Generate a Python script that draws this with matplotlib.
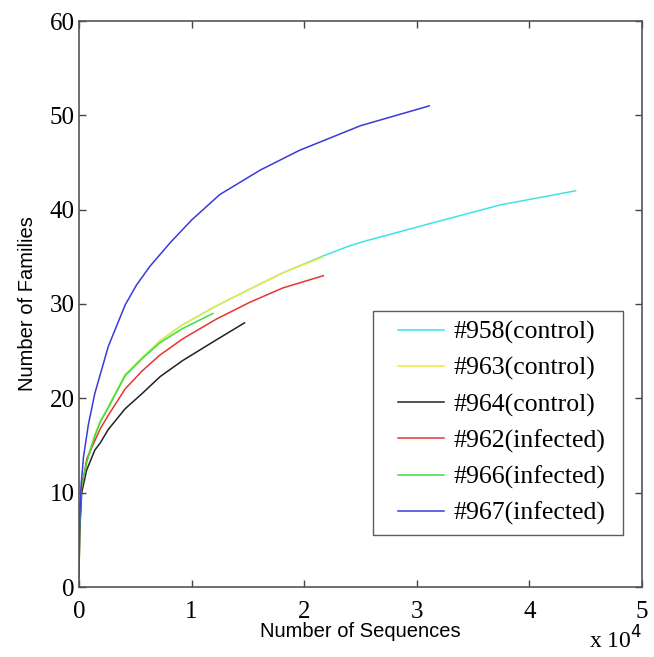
import numpy as np
import matplotlib
matplotlib.use("Agg")
import matplotlib.pyplot as plt
from matplotlib.lines import Line2D
from matplotlib.legend_handler import HandlerLine2D

# rarefaction curves, x in units of 1e4 sequences
x_958 = [0.0001, 0.005, 0.02, 0.07, 0.14, 0.19, 0.26, 0.41, 0.56, 0.72, 0.92, 1.22, 1.52, 1.81,
         2.17, 2.41, 2.55, 3.14, 3.74, 4.41]
y_958 = [1, 6, 10.5, 13.4, 16.1, 17.6, 19.1, 22.5, 24.3, 26.1, 27.8, 29.8, 31.6, 33.3,
         35.1, 36.2, 36.7, 38.6, 40.5, 42.0]

x_963 = [0.0001, 0.005, 0.02, 0.07, 0.14, 0.19, 0.26, 0.41, 0.56, 0.72, 0.92, 1.22, 1.52, 1.81, 2.17]
y_963 = [1, 6, 10.5, 13.4, 16.1, 17.6, 19.1, 22.5, 24.3, 26.1, 27.8, 29.8, 31.6, 33.3, 35.0]

x_964 = [0.0001, 0.005, 0.024, 0.068, 0.14, 0.19, 0.26, 0.41, 0.56, 0.72, 0.92, 1.22, 1.47]
y_964 = [1, 5.5, 10.0, 12.4, 14.5, 15.3, 16.7, 18.9, 20.5, 22.3, 24.0, 26.2, 28.0]

x_962 = [0.0001, 0.005, 0.02, 0.07, 0.14, 0.19, 0.26, 0.41, 0.56, 0.72, 0.92, 1.22, 1.52, 1.81, 2.17]
y_962 = [1, 6, 10.2, 13.6, 15.5, 16.8, 18.2, 21.0, 22.9, 24.6, 26.3, 28.4, 30.2, 31.7, 33.0]

x_966 = [0.0001, 0.005, 0.02, 0.07, 0.14, 0.19, 0.26, 0.41, 0.56, 0.72, 0.92, 1.19]
y_966 = [1, 6, 10.5, 13.3, 16.0, 17.5, 19.0, 22.4, 24.2, 25.9, 27.4, 29.0]

x_967 = [0.0001, 0.004, 0.01, 0.02, 0.04, 0.083, 0.14, 0.26, 0.41, 0.51, 0.63, 0.81, 1.0, 1.25,
         1.61, 1.96, 2.5, 3.11]
y_967 = [1, 6, 8.5, 11.0, 13.8, 17.2, 20.5, 25.5, 29.9, 32.0, 34.0, 36.5, 38.9, 41.6,
         44.2, 46.3, 48.9, 51.0]

labels = ["#958(control)", "#963(control)", "#964(control)",
          "#962(infected)", "#966(infected)", "#967(infected)"]
colors = ["#3fe3e3", "#ecec3a", "#222222", "#e83333", "#3ddd3d", "#3a3ad8"]

serif = "Liberation Serif"
sans = "Liberation Sans"

fig = plt.figure(figsize=(6.54, 6.57), dpi=100)
ax = fig.add_axes([79 / 654, 1 - 587 / 657, 563 / 654, 566 / 657])

series = [(x_958, y_958), (x_963, y_963), (x_964, y_964),
          (x_962, y_962), (x_966, y_966), (x_967, y_967)]
for (xs, ys), lab, c in zip(series, labels, colors):
    ax.plot(xs, ys, color=c, lw=1.1, label=lab)

ax.set_xlim(0, 5)
ax.set_ylim(0, 60)
ax.set_xticks(range(0, 6))
ax.set_yticks(range(0, 61, 10))
ax.tick_params(direction="in", top=True, right=True, length=5, width=1, colors="#444444",
               labelcolor="black", labelsize=18)
ax.tick_params(axis="x", pad=10)
ax.tick_params(axis="y", pad=3)
for lab in ax.get_xticklabels() + ax.get_yticklabels():
    lab.set_fontfamily(serif)
for sp in ax.spines.values():
    sp.set_color("#555555")
    sp.set_linewidth(1.2)

ax.set_xlabel("Number of Sequences", fontfamily=sans, fontsize=14.5)
ax.set_ylabel("Number of Families", fontfamily=sans, fontsize=14.5)
ax.xaxis.set_label_coords(0.5, -0.062)
ax.yaxis.set_label_coords(-0.075, 0.5)

fig.text(642 / 654, 1 - 649 / 657, r"x 10$^4$", fontfamily=serif, fontsize=17,
         ha="right", va="baseline")

# legend box ~ (373..623, 312..535) px in the reference
leg = ax.legend(loc="lower left", bbox_to_anchor=(0.522, 0.092, 0.444, 0.1), mode="expand",
                prop={"family": serif, "size": 18.5}, frameon=True, fancybox=False,
                handlelength=2.4, handletextpad=0.35, labelspacing=0.5,
                borderpad=0.37, borderaxespad=0,
                handler_map={Line2D: HandlerLine2D(xpad=0.6)})
leg.get_frame().set_edgecolor("#333333")
leg.get_frame().set_linewidth(1.0)

fig.savefig("out.png", dpi=100)
